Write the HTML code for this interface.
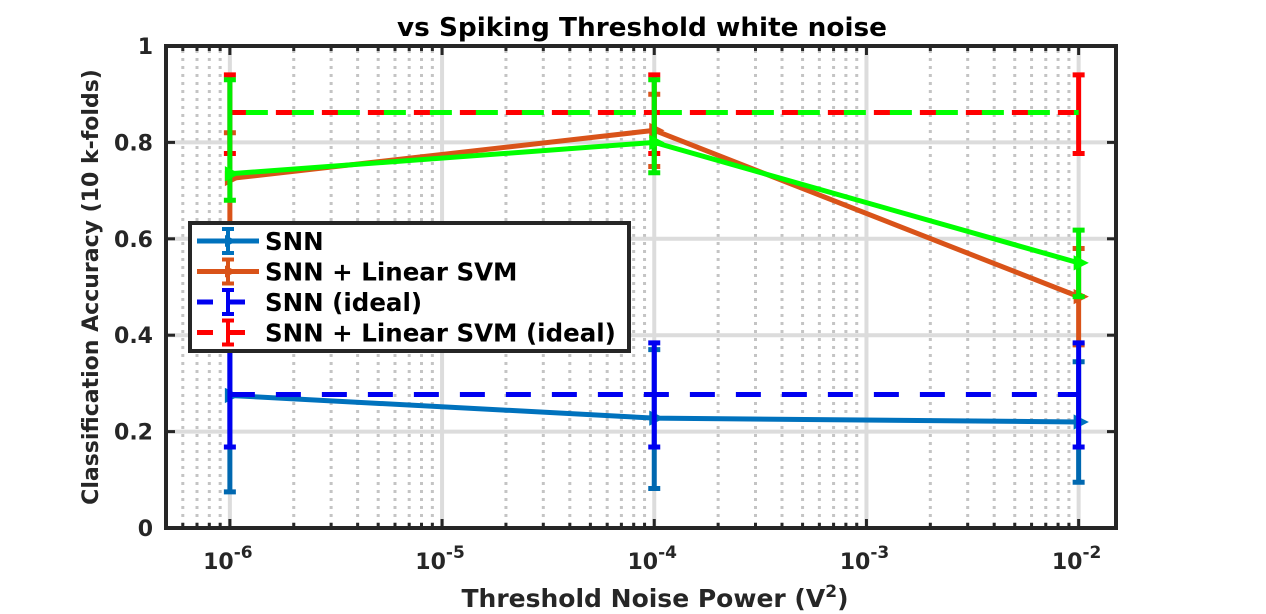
<!DOCTYPE html>
<html><head><meta charset="utf-8">
<style>
html,body{margin:0;padding:0;background:#fff;}
svg{display:block;font-family:"DejaVu Sans","Liberation Sans",sans-serif;}
</style></head>
<body>
<svg id="chart" width="1266" height="614" viewBox="0 0 1266 614">
  <rect x="0" y="0" width="1266" height="614" fill="#fff"/>
  <g id="grid"></g>
  <g id="series"></g>
  <g id="axes"></g>
  <text x="642" y="36" text-anchor="middle" font-size="26" font-weight="bold" fill="#000" textLength="490" lengthAdjust="spacingAndGlyphs">vs Spiking Threshold white noise</text>
  <text x="655" y="607" text-anchor="middle" font-size="25" font-weight="bold" fill="#262626">Threshold Noise Power (V<tspan dy="-10" font-size="17">2</tspan><tspan dy="10">)</tspan></text>
  <text transform="translate(98,287) rotate(-90)" text-anchor="middle" font-size="22" font-weight="bold" fill="#262626">Classification Accuracy (10 k-folds)</text>
  <g id="legend"></g>
</svg>
<script>
const xExponents = [-6, -4, -2];
const xTickExponents = [-6, -5, -4, -3, -2];
const yTicks = [0, 0.2, 0.4, 0.6, 0.8, 1];
const yTickLabels = ["0", "0.2", "0.4", "0.6", "0.8", "1"];

const snnVals = [0.275, 0.228, 0.220];
const snnLo = [0.075, 0.082, 0.095];
const snnHi = [0.42, 0.37, 0.345];

const svmVals = [0.725, 0.825, 0.480];
const svmLo = [0.60, 0.75, 0.38];
const svmHi = [0.82, 0.90, 0.58];

const greenVals = [0.735, 0.800, 0.550];
const greenLo = [0.68, 0.737, 0.48];
const greenHi = [0.93, 0.93, 0.618];

const snnIdealVals = [0.277, 0.277, 0.277];
const snnIdealLo = [0.168, 0.168, 0.168];
const snnIdealHi = [0.384, 0.384, 0.384];

const svmIdealVals = [0.862, 0.862, 0.862];
const svmIdealLo = [0.777, 0.777, 0.777];
const svmIdealHi = [0.94, 0.94, 0.94];

const legendLabels = ["SNN", "SNN + Linear SVM", "SNN (ideal)", "SNN + Linear SVM (ideal)"];

const NS = "http://www.w3.org/2000/svg";
const L = 166, R = 1116, T = 46, B = 528;
const xMinLog = Math.log10(5e-7), xMaxLog = Math.log10(1.5e-2);
function xs(e){ return L + (e - xMinLog) / (xMaxLog - xMinLog) * (R - L); }
function ys(v){ return B - v * (B - T); }
function mk(tag, attrs, parent){
  const el = document.createElementNS(NS, tag);
  for (const k in attrs) el.setAttribute(k, attrs[k]);
  parent.appendChild(el);
  return el;
}
const grid = document.getElementById('grid');
const axes = document.getElementById('axes');
const series = document.getElementById('series');
const legend = document.getElementById('legend');

for (let d = -7; d <= -2; d++) {
  for (let m = 2; m <= 9; m++) {
    const e = d + Math.log10(m);
    if (e < xMinLog + 0.01 || e > xMaxLog) continue;
    const x = xs(e);
    const g = mk('line', {x1:x, x2:x, y1:T+4, y2:B, stroke:'#c4c4c4', 'stroke-width':3, 'stroke-dasharray':'3,5'}, grid);
    
    
    const t = mk('line', {x1:x, x2:x, y1:B, y2:B-5, stroke:'#262626', 'stroke-width':3}, axes);
    
    
    const t2 = mk('line', {x1:x, x2:x, y1:T, y2:T+5, stroke:'#262626', 'stroke-width':3}, axes);
    
    
  }
}
xTickExponents.forEach(e => {
  const x = xs(e);
  const g = mk('line', {x1:x, x2:x, y1:T, y2:B, stroke:'#dcdcdc', 'stroke-width':4}, grid);
  
  
  const t = mk('line', {x1:x, x2:x, y1:B, y2:B-9, stroke:'#262626', 'stroke-width':3}, axes);
  
  
  const t2 = mk('line', {x1:x, x2:x, y1:T, y2:T+9, stroke:'#262626', 'stroke-width':3}, axes);
  
  
  const lab = mk('text', {x:x-2, y:569, 'text-anchor':'middle', 'font-size':22, 'font-weight':'bold', fill:'#262626'}, axes);
  
  
  lab.innerHTML = '10<tspan dy="-11" font-size="17">' + e + '</tspan>';
});
yTicks.forEach((v, i) => {
  const y = ys(v);
  if (v > 0 && v < 1) {
    const g = mk('line', {x1:L, x2:R, y1:y, y2:y, stroke:'#dcdcdc', 'stroke-width':4}, grid);
    
    
  }
  const t = mk('line', {x1:L, x2:L+9, y1:y, y2:y, stroke:'#262626', 'stroke-width':3}, axes);
  
  
  const t2 = mk('line', {x1:R, x2:R-9, y1:y, y2:y, stroke:'#262626', 'stroke-width':3}, axes);
  
  
  const lab = mk('text', {x:L-13, y:y+8, 'text-anchor':'end', 'font-size':22, 'font-weight':'bold', fill:'#262626'}, axes);
  
  
  lab.textContent = yTickLabels[i];
});
const box = mk('rect', {x:L, y:T, width:R-L, height:B-T, fill:'none', stroke:'#262626', 'stroke-width':4}, axes);



function drawSeries(name, vals, lo, hi, color, dashed, ebColor, marker){
  const g = mk('g', {}, series);
  
  
  const pts = vals.map((v, i) => xs(xExponents[i]) + ',' + ys(v)).join(' ');
  const line = mk('polyline', {points:pts, fill:'none', stroke:color, 'stroke-width':5}, g);
  if (dashed) line.setAttribute('stroke-dasharray', '25,21');
  
  
  vals.forEach((v, i) => {
    const x = xs(xExponents[i]);
    const eb = mk('path', {d:'M' + x + ',' + ys(lo[i]) + 'V' + ys(hi[i]) + 'M' + (x-6) + ',' + ys(lo[i]) + 'H' + (x+6) + 'M' + (x-6) + ',' + ys(hi[i]) + 'H' + (x+6), stroke:ebColor, 'stroke-width':5, fill:'none'}, g);
    
    
    if (marker) {
      const y = ys(v);
      const m = mk('path', {d:'M' + (x-4) + ',' + (y-6) + 'L' + (x+8) + ',' + y + 'L' + (x-4) + ',' + (y+6) + 'Z', fill:color, stroke:color, 'stroke-width':2}, g);
      
      
    }
  });
}
drawSeries('snn-series', snnVals, snnLo, snnHi, '#0072BD', false, '#0068B0', true);
drawSeries('svm-series', svmVals, svmLo, svmHi, '#D95319', false, '#D95319', true);
drawSeries('snn-ideal-series', snnIdealVals, snnIdealLo, snnIdealHi, '#0000F0', true, '#0000F0', false);
drawSeries('svm-ideal-series', svmIdealVals, svmIdealLo, svmIdealHi, '#FF0000', true, '#FF0000', false);
drawSeries('green-series', greenVals, greenLo, greenHi, '#00FF00', false, '#00EE00', true);
const gl = mk('line', {x1:xs(xExponents[0]), x2:xs(xExponents[2]), y1:ys(svmIdealVals[0]), y2:ys(svmIdealVals[0]), stroke:'#00FF00', 'stroke-width':5, 'stroke-dasharray':'22,24', 'stroke-dashoffset':'-16'}, series);



const lb = mk('rect', {x:190, y:223, width:439, height:128, fill:'#fff', stroke:'#262626', 'stroke-width':4}, legend);


const lcolors = ['#0072BD', '#D95319', '#0000F0', '#FF0000'];
legendLabels.forEach((lab, i) => {
  const y = 241 + i * 30.5;
  const g = mk('g', {}, legend);
  
  
  if (i < 2) {
    mk('line', {x1:197, x2:259, y1:y, y2:y, stroke:lcolors[i], 'stroke-width':5}, g);
    mk('path', {d:'M225,' + (y-6) + 'L237,' + y + 'L225,' + (y+6) + 'Z', fill:lcolors[i]}, g);
  } else {
    mk('line', {x1:197, x2:213, y1:y, y2:y, stroke:lcolors[i], 'stroke-width':5}, g);
    mk('line', {x1:230, x2:245, y1:y, y2:y, stroke:lcolors[i], 'stroke-width':5}, g);
  }
  mk('path', {d:'M228,' + (y-12) + 'V' + (y+12) + 'M222,' + (y-12) + 'H234M222,' + (y+12) + 'H234', stroke:lcolors[i], 'stroke-width':4, fill:'none'}, g);
  const t = mk('text', {x:265, y:y+9, 'font-size':24.5, 'font-weight':'bold', fill:'#000'}, g);
  t.textContent = lab;
});
</script>
</body></html>
